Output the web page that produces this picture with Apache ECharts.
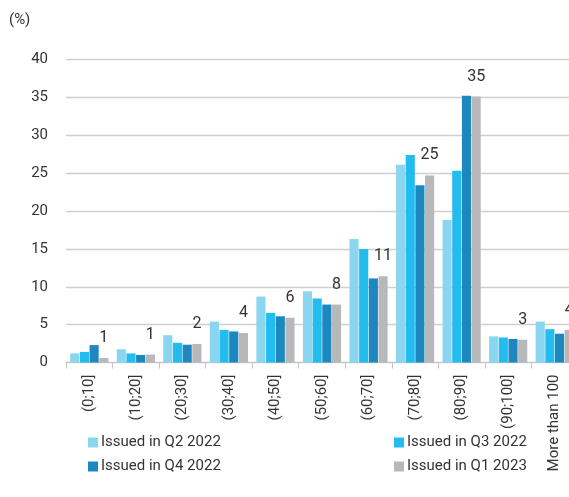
<!DOCTYPE html>
<html>
<head>
<meta charset="utf-8">
<script src="https://cdn.jsdelivr.net/npm/echarts@6/dist/echarts.min.js"></script>
<style>
  html, body { margin: 0; padding: 0; background: #fff; overflow: hidden; }
  #chart { width: 569px; height: 497px; }
</style>
</head>
<body>
<div id="chart"></div>
<script>
// Distribution buckets (%)
const categories = ['(0;10]', '(10;20]', '(20;30]', '(30;40]', '(40;50]', '(50;60]',
  '(60;70]', '(70;80]', '(80;90]', '(90;100]', 'More than 100'];

const seriesNames = ['Issued in Q2 2022', 'Issued in Q3 2022', 'Issued in Q4 2022', 'Issued in Q1 2023'];

const q2_2022 = [1.2, 1.75, 3.6, 5.4, 8.7, 9.4, 16.3, 26.1, 18.8, 3.45, 5.4];
const q3_2022 = [1.4, 1.2, 2.6, 4.3, 6.55, 8.45, 15.0, 27.4, 25.3, 3.3, 4.4];
const q4_2022 = [2.3, 1.0, 2.35, 4.1, 6.1, 7.65, 11.1, 23.4, 35.2, 3.1, 3.8];
const q1_2023 = [0.6, 1.05, 2.45, 3.9, 5.9, 7.65, 11.4, 24.7, 35.1, 3.0, 4.3];

const yTicks = { min: 0, max: 40, interval: 5 };

const colors = ['#8ad5f0', '#22bcee', '#1c88bf', '#b7b8ba'];
const font = 'Roboto, "Liberation Sans", sans-serif';
const textColor = '#333333';

const chart = echarts.init(document.getElementById('chart'), null, { renderer: 'canvas' });

const allValues = [q2_2022, q3_2022, q4_2022, q1_2023];

const series = allValues.map((vals, i) => {
  const s = {
    name: seriesNames[i],
    type: 'bar',
    data: vals,
    itemStyle: { color: colors[i] },
    barCategoryGap: '18%',
    barGap: '6%',
    animation: false
  };
  if (i === 3) {
    s.label = {
      show: true,
      position: 'top',
      distance: 12,
      fontFamily: font,
      fontSize: 16,
      color: textColor,
      formatter: p => String(Math.round(p.value))
    };
  }
  return s;
});

// Legend placed as a 2 x 2 block
const legendPos = [
  { left: 83, top: 430 },
  { left: 389, top: 430 },
  { left: 83, top: 454 },
  { left: 389, top: 454 }
];

const legends = seriesNames.map((name, i) => ({
  data: [name],
  left: legendPos[i].left,
  top: legendPos[i].top,
  itemWidth: 10,
  itemHeight: 10,
  itemGap: 0,
  icon: 'rect',
  selectedMode: false,
  textStyle: { fontFamily: font, fontSize: 15, color: textColor, padding: [0, 0, 0, -2] }
}));

chart.setOption({
  backgroundColor: '#ffffff',
  animation: false,
  // plot area runs a little past the right edge of the canvas
  grid: { left: 66, width: 512, top: 59.5, height: 303, containLabel: false, outerBoundsMode: 'none' },
  legend: legends,
  graphic: [{
    type: 'text',
    left: 9,
    top: 13,
    style: { text: '(%)', fontFamily: font, fontSize: 15, fill: textColor }
  }],
  xAxis: {
    type: 'category',
    data: categories,
    axisLine: { show: true, lineStyle: { color: '#c4c4c4', width: 1 } },
    axisTick: { show: true, length: 6, lineStyle: { color: '#c4c4c4' } },
    axisLabel: {
      rotate: 90,
      margin: 12,
      fontFamily: font,
      fontSize: 15,
      color: textColor,
      interval: 0
    }
  },
  yAxis: {
    type: 'value',
    min: yTicks.min,
    max: yTicks.max,
    interval: yTicks.interval,
    axisLine: { show: false },
    axisTick: { show: false },
    splitLine: { lineStyle: { color: '#cfcfcf', width: 1.3 } },
    axisLabel: { margin: 18, fontFamily: font, fontSize: 15, color: textColor }
  },
  series: series
});
</script>
</body>
</html>
